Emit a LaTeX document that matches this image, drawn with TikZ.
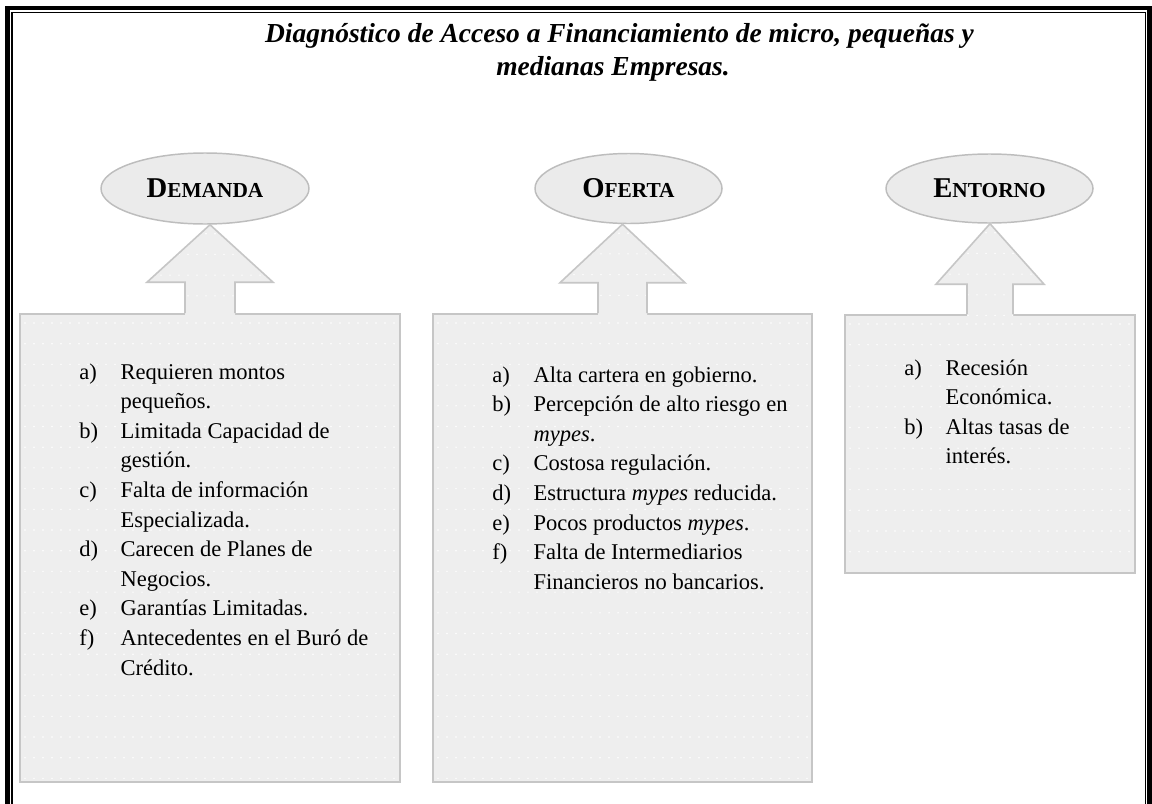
\documentclass[tikz,border=0pt]{standalone}
\usepackage{fontspec}
\setmainfont{Liberation Serif}
\usetikzlibrary{shapes.geometric,calc}
\definecolor{boxfill}{HTML}{EEEEEE}
\definecolor{boxline}{HTML}{C6C6C6}
\definecolor{ellfill}{HTML}{EBEBEB}
\definecolor{ellline}{HTML}{BDBDBD}

\newcommand\hdtext[2]{{\bfseries\fontsize{21.5}{21.5}\selectfont #1\fontsize{16}{16}\selectfont #2}}
\newcommand\lab[1]{\makebox[31pt][l]{#1}}
\newcommand\cont{\hspace*{31pt}}

\tikzset{
  dots/.style={path picture={
    \foreach \k in {0,...,24}{
      \draw[white, line width=1.2pt, line cap=round, dash pattern=on 0pt off 6.75pt]
        ($(path picture bounding box.north west)+(5,9+20.7*\k)$) -- ++(420,0);
    }}},
  headell/.style={ellipse, draw=ellline, fill=ellfill, line width=1.1pt, inner sep=0pt},
  listbox/.style={rectangle, draw=boxline, fill=boxfill, line width=1.2pt, inner sep=0pt, dots},
  itemlist/.style={anchor=base west, inner sep=0pt, font=\fontsize{16.9}{22.2}\selectfont},
  titletext/.style={anchor=base, inner sep=0pt, font=\bfseries\itshape\fontsize{20.6}{24.75}\selectfont},
  arrline/.style={draw=boxline, line width=1.2pt, line join=miter},
}

% box, ellipse, shaft half width, head half width, head base height above box
\newcommand\uparr[5]{%
  \fill[boxfill, dots] ($(#1.north)+(-#3,2)$) -- ($(#1.north)+(-#3,-#5)$) -- ($(#1.north)+(-#4,-#5)$)
     -- (#1.north |- #2.south) -- ($(#1.north)+(#4,-#5)$) -- ($(#1.north)+(#3,-#5)$) -- ($(#1.north)+(#3,2)$) -- cycle;
  \draw[arrline] ($(#1.north)+(-#3,0)$) -- ($(#1.north)+(-#3,-#5)$) -- ($(#1.north)+(-#4,-#5)$)
     -- (#1.north |- #2.south) -- ($(#1.north)+(#4,-#5)$) -- ($(#1.north)+(#3,-#5)$) -- ($(#1.north)+(#3,0)$);
}

\begin{document}
\begin{tikzpicture}[x=0.75pt, y=-0.75pt]
\useasboundingbox (0,0) rectangle (1152,803);
\fill[white] (0,0) rectangle (1152,803);

% frame
\draw[line width=3.4pt] (7.5,8) rectangle (1149.6,840);
\draw[line width=1.1pt] (12,12.5) rectangle (1145.5,840);

% title
\node[titletext] (t1) at (619.5,42) {Diagnóstico de Acceso a Financiamiento de micro, pequeñas y};
\node[titletext] (t2) at (613,75) {medianas Empresas.};

% boxes
\node[listbox, minimum width=285pt, minimum height=351pt] (dbox) at (210,548) {};
\node[listbox, minimum width=284.25pt, minimum height=351pt] (obox) at (622.5,548) {};
\node[listbox, minimum width=217.5pt, minimum height=193.5pt] (ebox) at (990,444) {};

% headings
\node[headell, minimum width=156pt, minimum height=53.25pt] (dem) at (205,188.5) {\hdtext{D}{EMANDA}};
\node[headell, minimum width=140.25pt, minimum height=52.5pt] (ofe) at (628.5,188.5) {\hdtext{O}{FERTA}};
\node[headell, minimum width=155.25pt, minimum height=51.75pt] (ent) at (989.5,188.5) {\hdtext{E}{NTORNO}};

% arrows
\uparr{dbox}{dem}{25}{63}{31}
\uparr{obox}{ofe}{24.5}{62.5}{30.5}
\uparr{ebox}{ent}{23}{54}{30}

% lists
\node[itemlist] (dlist) at (79,379) {\begin{tabular}[t]{@{}l@{}}
\lab{a)}Requieren montos\\
\cont pequeños.\\
\lab{b)}Limitada Capacidad de\\
\cont gestión.\\
\lab{c)}Falta de información\\
\cont Especializada.\\
\lab{d)}Carecen de Planes de\\
\cont Negocios.\\
\lab{e)}Garantías Limitadas.\\
\lab{f)}Antecedentes en el Buró de\\
\cont Crédito.
\end{tabular}};

\node[itemlist] (olist) at (492,382) {\begin{tabular}[t]{@{}l@{}}
\lab{a)}Alta cartera en gobierno.\\
\lab{b)}Percepción de alto riesgo en\\
\cont\textit{mypes}.\\
\lab{c)}Costosa regulación.\\
\lab{d)}Estructura \textit{mypes} reducida.\\
\lab{e)}Pocos productos \textit{mypes}.\\
\lab{f)}Falta de Intermediarios\\
\cont Financieros no bancarios.
\end{tabular}};

\node[itemlist] (elist) at (904,375) {\begin{tabular}[t]{@{}l@{}}
\lab{a)}Recesión\\
\cont Económica.\\
\lab{b)}Altas tasas de\\
\cont interés.
\end{tabular}};
\end{tikzpicture}
\end{document}
